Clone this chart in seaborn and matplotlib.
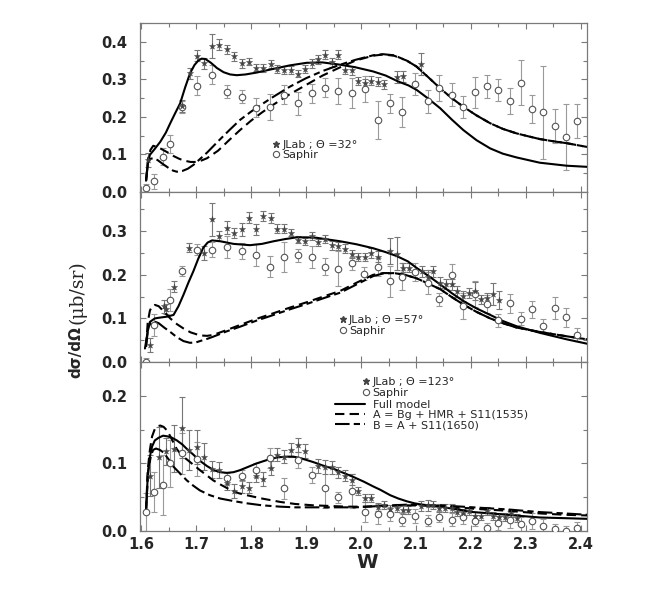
import matplotlib
matplotlib.use("Agg")
import numpy as np
import pandas as pd
import matplotlib.pyplot as plt
from matplotlib.lines import Line2D
from matplotlib.ticker import MultipleLocator, FormatStrFormatter
import seaborn as sns

sns.set_style("ticks")
plt.rcParams['font.family'] = ['DejaVu Sans']

# ── theta = 32 deg ─────────────────────────────────────────
W_j32 = [1.613, 1.674, 1.689, 1.701, 1.715, 1.729, 1.742, 1.756, 1.769, 1.783, 1.796, 1.809,
         1.822, 1.836, 1.848, 1.860, 1.872, 1.886, 1.898, 1.910, 1.921, 1.935, 1.947, 1.958,
         1.971, 1.983, 1.995, 2.007, 2.019, 2.030, 2.042, 2.065, 2.076, 2.109]
y_j32 = [0.085, 0.229, 0.316, 0.363, 0.343, 0.389, 0.392, 0.380, 0.361, 0.343, 0.347, 0.331,
         0.330, 0.341, 0.327, 0.325, 0.325, 0.315, 0.327, 0.343, 0.353, 0.366, 0.346, 0.366,
         0.325, 0.324, 0.296, 0.290, 0.296, 0.294, 0.287, 0.306, 0.308, 0.341]
e_j32 = [0.018, 0.015, 0.015, 0.015, 0.015, 0.031, 0.015, 0.012, 0.012, 0.012, 0.010, 0.010,
         0.010, 0.010, 0.010, 0.010, 0.010, 0.010, 0.010, 0.012, 0.012, 0.012, 0.012, 0.012,
         0.012, 0.012, 0.010, 0.012, 0.012, 0.012, 0.012, 0.015, 0.015, 0.030]

W_s32 = [1.609, 1.624, 1.639, 1.653, 1.674, 1.701, 1.729, 1.756, 1.783, 1.809, 1.835, 1.860,
         1.886, 1.910, 1.935, 1.959, 1.983, 2.007, 2.030, 2.053, 2.075, 2.098, 2.121, 2.142,
         2.165, 2.186, 2.207, 2.229, 2.250, 2.271, 2.291, 2.311, 2.331, 2.353, 2.372, 2.392]
y_s32 = [0.010, 0.029, 0.094, 0.128, 0.226, 0.283, 0.312, 0.267, 0.254, 0.225, 0.226, 0.259,
         0.236, 0.263, 0.278, 0.269, 0.263, 0.274, 0.192, 0.236, 0.212, 0.288, 0.241, 0.276,
         0.259, 0.226, 0.265, 0.281, 0.272, 0.243, 0.291, 0.221, 0.212, 0.176, 0.146, 0.190]
e_s32 = [0.010, 0.020, 0.022, 0.025, 0.015, 0.025, 0.025, 0.018, 0.018, 0.025, 0.035, 0.025,
         0.030, 0.025, 0.025, 0.035, 0.040, 0.035, 0.050, 0.025, 0.040, 0.030, 0.030, 0.035,
         0.030, 0.030, 0.040, 0.030, 0.030, 0.035, 0.060, 0.038, 0.124, 0.045, 0.088, 0.045]

Wf32 = [1.609, 1.612, 1.616, 1.625, 1.635, 1.645, 1.653, 1.662, 1.671, 1.680, 1.689, 1.697,
        1.704, 1.710, 1.717, 1.727, 1.738, 1.750, 1.762, 1.774, 1.790, 1.810, 1.841, 1.870,
        1.901, 1.930, 1.962, 1.990, 2.022, 2.045, 2.068, 2.086, 2.101, 2.122, 2.144, 2.165,
        2.186, 2.210, 2.235, 2.258, 2.283, 2.325, 2.374, 2.411]
full32 = [0.030, 0.075, 0.099, 0.115, 0.134, 0.158, 0.183, 0.210, 0.236, 0.278, 0.316, 0.338,
          0.350, 0.355, 0.354, 0.344, 0.330, 0.319, 0.313, 0.311, 0.313, 0.318, 0.328, 0.337,
          0.344, 0.345, 0.339, 0.332, 0.321, 0.310, 0.294, 0.284, 0.272, 0.249, 0.223, 0.193,
          0.165, 0.138, 0.116, 0.102, 0.092, 0.078, 0.070, 0.067]

Wa32 = [1.609, 1.613, 1.617, 1.622, 1.630, 1.640, 1.650, 1.660, 1.670, 1.680, 1.690, 1.700,
        1.710, 1.720, 1.740, 1.760, 1.780, 1.800, 1.820, 1.840, 1.870, 1.900, 1.930, 1.962,
        1.990, 2.022, 2.040, 2.060, 2.083, 2.101, 2.122, 2.144, 2.165, 2.186, 2.210, 2.235,
        2.258, 2.283, 2.305, 2.325, 2.350, 2.374, 2.411]
a32 = [0.030, 0.090, 0.112, 0.123, 0.120, 0.112, 0.104, 0.095, 0.088, 0.083, 0.080, 0.080,
       0.084, 0.090, 0.110, 0.138, 0.165, 0.190, 0.212, 0.232, 0.260, 0.285, 0.310, 0.332,
       0.350, 0.363, 0.366, 0.363, 0.350, 0.334, 0.306, 0.276, 0.250, 0.227, 0.204, 0.183,
       0.168, 0.156, 0.148, 0.141, 0.135, 0.130, 0.120]

Wb32 = [1.609, 1.612, 1.616, 1.622, 1.630, 1.640, 1.650, 1.658, 1.665, 1.675, 1.685, 1.695,
        1.705, 1.720, 1.740, 1.760, 1.780, 1.800, 1.820, 1.840, 1.870, 1.900, 1.930, 1.960,
        1.990, 2.022, 2.040, 2.060, 2.083, 2.101, 2.122, 2.144, 2.165, 2.186, 2.210, 2.235,
        2.258, 2.283, 2.305, 2.325, 2.350, 2.374, 2.411]
b32 = [0.030, 0.070, 0.088, 0.090, 0.085, 0.074, 0.064, 0.057, 0.054, 0.056, 0.062, 0.072,
       0.085, 0.105, 0.135, 0.164, 0.192, 0.214, 0.234, 0.253, 0.280, 0.303, 0.322, 0.338,
       0.352, 0.364, 0.367, 0.364, 0.350, 0.334, 0.306, 0.276, 0.250, 0.227, 0.204, 0.183,
       0.168, 0.156, 0.148, 0.141, 0.135, 0.130, 0.120]

# ── theta = 57 deg ─────────────────────────────────────────
W_j57 = [1.616, 1.641, 1.645, 1.660, 1.688, 1.715, 1.729, 1.742, 1.756, 1.769, 1.783, 1.796,
         1.809, 1.822, 1.836, 1.848, 1.860, 1.872, 1.886, 1.898, 1.910, 1.922, 1.935, 1.947,
         1.959, 1.971, 1.983, 1.995, 2.007, 2.019, 2.030, 2.053, 2.065, 2.077, 2.088, 2.110,
         2.121, 2.131, 2.143, 2.155, 2.165, 2.175, 2.186, 2.197, 2.207, 2.218, 2.229, 2.240, 2.251]
y_j57 = [0.039, 0.128, 0.121, 0.173, 0.262, 0.250, 0.327, 0.289, 0.308, 0.296, 0.304, 0.331,
         0.304, 0.335, 0.330, 0.306, 0.306, 0.296, 0.281, 0.277, 0.289, 0.275, 0.282, 0.268,
         0.266, 0.260, 0.248, 0.241, 0.241, 0.250, 0.242, 0.254, 0.248, 0.216, 0.216, 0.208,
         0.195, 0.208, 0.182, 0.179, 0.178, 0.162, 0.152, 0.158, 0.163, 0.144, 0.146, 0.156, 0.142]
e_j57 = [0.015, 0.015, 0.012, 0.012, 0.010, 0.015, 0.037, 0.012, 0.015, 0.012, 0.015, 0.012,
         0.012, 0.012, 0.012, 0.010, 0.010, 0.008, 0.008, 0.008, 0.010, 0.008, 0.010, 0.010,
         0.010, 0.010, 0.010, 0.010, 0.010, 0.012, 0.012, 0.030, 0.038, 0.010, 0.010, 0.012,
         0.015, 0.012, 0.012, 0.012, 0.012, 0.012, 0.012, 0.012, 0.020, 0.010, 0.012, 0.025, 0.020]

W_s57 = [1.609, 1.624, 1.653, 1.674, 1.701, 1.729, 1.756, 1.783, 1.809, 1.835, 1.860, 1.886,
         1.910, 1.935, 1.959, 1.983, 2.006, 2.030, 2.053, 2.075, 2.098, 2.121, 2.142, 2.165,
         2.186, 2.207, 2.229, 2.250, 2.271, 2.291, 2.311, 2.331, 2.353, 2.372, 2.392]
y_s57 = [0.000, 0.085, 0.142, 0.209, 0.258, 0.258, 0.264, 0.255, 0.246, 0.219, 0.241, 0.245,
         0.241, 0.219, 0.214, 0.227, 0.202, 0.218, 0.185, 0.196, 0.206, 0.181, 0.144, 0.199,
         0.129, 0.156, 0.133, 0.096, 0.135, 0.099, 0.121, 0.083, 0.123, 0.103, 0.063]
e_s57 = [0.010, 0.025, 0.025, 0.012, 0.012, 0.018, 0.025, 0.018, 0.025, 0.025, 0.035, 0.015,
         0.025, 0.020, 0.040, 0.015, 0.015, 0.020, 0.035, 0.030, 0.020, 0.025, 0.015, 0.025,
         0.030, 0.030, 0.020, 0.015, 0.022, 0.015, 0.020, 0.015, 0.025, 0.022, 0.015]

Wf57 = [1.607, 1.612, 1.616, 1.625, 1.635, 1.647, 1.659, 1.668, 1.677, 1.686, 1.695, 1.704,
        1.713, 1.721, 1.729, 1.744, 1.768, 1.798, 1.820, 1.841, 1.862, 1.883, 1.901, 1.919,
        1.940, 1.962, 1.992, 2.022, 2.045, 2.065, 2.085, 2.101, 2.122, 2.144, 2.165, 2.186,
        2.210, 2.235, 2.258, 2.283, 2.325, 2.374, 2.411]
full57 = [0.031, 0.070, 0.092, 0.100, 0.102, 0.104, 0.108, 0.128, 0.154, 0.182, 0.208, 0.237,
          0.262, 0.274, 0.279, 0.277, 0.271, 0.268, 0.271, 0.277, 0.282, 0.286, 0.286, 0.285,
          0.281, 0.277, 0.270, 0.261, 0.252, 0.243, 0.231, 0.216, 0.198, 0.178, 0.158, 0.140,
          0.123, 0.108, 0.094, 0.082, 0.067, 0.052, 0.042]

Wa57 = [1.609, 1.612, 1.616, 1.620, 1.625, 1.632, 1.642, 1.653, 1.665, 1.677, 1.690, 1.707,
        1.720, 1.731, 1.755, 1.780, 1.810, 1.841, 1.871, 1.901, 1.931, 1.962, 1.992, 2.022,
        2.040, 2.060, 2.080, 2.101, 2.122, 2.144, 2.165, 2.186, 2.210, 2.235, 2.258, 2.283,
        2.325, 2.374, 2.411]
a57 = [0.035, 0.090, 0.118, 0.128, 0.131, 0.128, 0.115, 0.100, 0.087, 0.077, 0.068, 0.061,
       0.060, 0.062, 0.073, 0.085, 0.099, 0.112, 0.125, 0.137, 0.150, 0.163, 0.182, 0.200,
       0.204, 0.204, 0.200, 0.192, 0.180, 0.167, 0.149, 0.132, 0.115, 0.100, 0.089, 0.079,
       0.069, 0.059, 0.052]

Wb57 = [1.609, 1.613, 1.619, 1.626, 1.632, 1.642, 1.653, 1.665, 1.677, 1.689, 1.700, 1.707,
        1.720, 1.731, 1.755, 1.780, 1.810, 1.841, 1.871, 1.901, 1.931, 1.962, 1.992, 2.022,
        2.040, 2.060, 2.080, 2.101, 2.122, 2.144, 2.165, 2.186, 2.210, 2.235, 2.258, 2.283,
        2.325, 2.374, 2.411]
b57 = [0.035, 0.080, 0.092, 0.092, 0.089, 0.079, 0.069, 0.057, 0.048, 0.044, 0.045, 0.048,
       0.053, 0.058, 0.070, 0.081, 0.095, 0.108, 0.121, 0.133, 0.146, 0.159, 0.178, 0.197,
       0.203, 0.204, 0.200, 0.192, 0.180, 0.167, 0.149, 0.132, 0.115, 0.100, 0.089, 0.079,
       0.069, 0.059, 0.052]

# ── theta = 123 deg ────────────────────────────────────────
W_j123 = [1.616, 1.632, 1.645, 1.659, 1.674, 1.688, 1.701, 1.715, 1.729, 1.742, 1.756, 1.769,
          1.783, 1.796, 1.809, 1.822, 1.836, 1.848, 1.860, 1.872, 1.886, 1.898, 1.922, 1.935,
          1.947, 1.959, 1.971, 1.983, 1.995, 2.007, 2.019, 2.030, 2.042, 2.053, 2.065, 2.076,
          2.086, 2.109, 2.121, 2.131, 2.142, 2.153, 2.165, 2.175, 2.186, 2.197, 2.207, 2.218,
          2.229, 2.240, 2.251, 2.262, 2.272, 2.283]
y_j123 = [0.082, 0.109, 0.118, 0.122, 0.153, 0.120, 0.124, 0.110, 0.091, 0.090, 0.071, 0.059,
          0.066, 0.064, 0.082, 0.077, 0.093, 0.113, 0.110, 0.120, 0.127, 0.118, 0.096, 0.095,
          0.094, 0.087, 0.082, 0.076, 0.059, 0.049, 0.049, 0.036, 0.039, 0.033, 0.034, 0.031,
          0.031, 0.037, 0.038, 0.038, 0.034, 0.034, 0.034, 0.028, 0.027, 0.030, 0.022, 0.022,
          0.030, 0.022, 0.021, 0.021, 0.026, 0.019]
e_j123 = [0.030, 0.045, 0.020, 0.035, 0.045, 0.030, 0.025, 0.020, 0.012, 0.012, 0.010, 0.010,
          0.010, 0.008, 0.010, 0.010, 0.010, 0.010, 0.010, 0.010, 0.010, 0.010, 0.010, 0.010,
          0.010, 0.008, 0.008, 0.008, 0.006, 0.006, 0.006, 0.006, 0.006, 0.006, 0.006, 0.006,
          0.006, 0.008, 0.008, 0.006, 0.006, 0.006, 0.006, 0.006, 0.006, 0.006, 0.006, 0.006,
          0.006, 0.006, 0.006, 0.006, 0.006, 0.006]

W_s123 = [1.609, 1.624, 1.639, 1.653, 1.674, 1.701, 1.756, 1.783, 1.809, 1.835, 1.860, 1.886,
          1.910, 1.935, 1.959, 1.983, 2.007, 2.030, 2.053, 2.075, 2.098, 2.121, 2.142, 2.165,
          2.186, 2.207, 2.229, 2.250, 2.271, 2.291, 2.311, 2.331, 2.353, 2.372, 2.392]
y_s123 = [0.028, 0.058, 0.068, 0.100, 0.115, 0.107, 0.078, 0.082, 0.090, 0.108, 0.063, 0.105,
          0.083, 0.064, 0.050, 0.059, 0.028, 0.025, 0.025, 0.017, 0.022, 0.015, 0.021, 0.017,
          0.020, 0.015, 0.004, 0.012, 0.017, 0.010, 0.015, 0.008, 0.003, 0.000, 0.004]
e_s123 = [0.028, 0.030, 0.045, 0.035, 0.030, 0.025, 0.008, 0.008, 0.010, 0.015, 0.015, 0.012,
          0.012, 0.030, 0.008, 0.025, 0.015, 0.015, 0.010, 0.010, 0.010, 0.008, 0.008, 0.010,
          0.010, 0.008, 0.008, 0.010, 0.012, 0.010, 0.012, 0.010, 0.008, 0.008, 0.010]

Wf123 = [1.609, 1.612, 1.616, 1.620, 1.625, 1.632, 1.640, 1.648, 1.656, 1.665, 1.675, 1.685,
         1.695, 1.705, 1.720, 1.732, 1.744, 1.756, 1.768, 1.780, 1.792, 1.810, 1.829, 1.848,
         1.865, 1.877, 1.889, 1.901, 1.913, 1.930, 1.950, 1.968, 1.986, 2.005, 2.022, 2.035,
         2.053, 2.068, 2.083, 2.097, 2.111, 2.144, 2.174, 2.204, 2.235, 2.265, 2.295, 2.325,
         2.370, 2.411]
full123 = [0.030, 0.080, 0.110, 0.125, 0.134, 0.138, 0.141, 0.140, 0.138, 0.134, 0.128, 0.120,
           0.113, 0.105, 0.096, 0.090, 0.087, 0.086, 0.087, 0.090, 0.094, 0.100, 0.105, 0.109,
           0.110, 0.110, 0.108, 0.105, 0.102, 0.097, 0.092, 0.086, 0.080, 0.073, 0.066, 0.061,
           0.053, 0.048, 0.044, 0.041, 0.039, 0.036, 0.032, 0.028, 0.026, 0.024, 0.022, 0.020,
           0.019, 0.018]

Wa123 = [1.609, 1.612, 1.616, 1.620, 1.625, 1.630, 1.635, 1.641, 1.648, 1.655, 1.665, 1.675,
         1.683, 1.695, 1.707, 1.720, 1.731, 1.746, 1.762, 1.777, 1.792, 1.820, 1.853, 1.880,
         1.913, 1.944, 1.974, 2.005, 2.035, 2.083, 2.144, 2.204, 2.265, 2.325, 2.370, 2.411]
a123 = [0.030, 0.090, 0.120, 0.140, 0.151, 0.155, 0.156, 0.154, 0.148, 0.137, 0.121, 0.111,
        0.106, 0.098, 0.090, 0.082, 0.075, 0.068, 0.061, 0.056, 0.053, 0.048, 0.043, 0.040,
        0.038, 0.037, 0.036, 0.036, 0.037, 0.038, 0.037, 0.033, 0.030, 0.026, 0.024, 0.023]

Wb123 = [1.609, 1.613, 1.618, 1.622, 1.627, 1.634, 1.641, 1.650, 1.659, 1.671, 1.683, 1.695,
         1.707, 1.725, 1.744, 1.770, 1.792, 1.820, 1.853, 1.880, 1.913, 1.950, 1.990, 2.035,
         2.083, 2.144, 2.204, 2.265, 2.325, 2.370, 2.411]
b123 = [0.030, 0.090, 0.112, 0.120, 0.122, 0.120, 0.116, 0.106, 0.095, 0.085, 0.075, 0.067,
        0.060, 0.053, 0.048, 0.044, 0.041, 0.038, 0.036, 0.035, 0.035, 0.035, 0.035, 0.037,
        0.039, 0.038, 0.035, 0.032, 0.028, 0.026, 0.024]

ANGLES = ["32", "57", "123"]
YMAX   = [0.45, 0.39, 0.25]
YTOP   = [0.4, 0.3, 0.2]

DASH_A = (0, (4.5, 2.5))
DASH_B = (0, (7, 2, 3, 2))
FRAME  = "#7a7a7a"

# ── figure ─────────────────────────────────────────────────
fig = plt.figure(figsize=(6.51, 5.99), dpi=100)
L, R = 140 / 651, 587 / 651
def panel_rect(top_px, bot_px):
    return [L, 1 - bot_px / 599, R - L, (bot_px - top_px) / 599]

axes = [fig.add_axes(panel_rect(23, 192)),
        fig.add_axes(panel_rect(192, 362)),
        fig.add_axes(panel_rect(362, 531))]

panels = [
    (W_j32, y_j32, e_j32, W_s32, y_s32, e_s32, Wf32, full32, Wa32, a32, Wb32, b32),
    (W_j57, y_j57, e_j57, W_s57, y_s57, e_s57, Wf57, full57, Wa57, a57, Wb57, b57),
    (W_j123, y_j123, e_j123, W_s123, y_s123, e_s123, Wf123, full123, Wa123, a123, Wb123, b123),
]

for i, (ax, p) in enumerate(zip(axes, panels)):
    Wj, yj, ej, Ws, ys, es, Wf, yf, Wa, ya, Wb, yb = p
    jlab = pd.DataFrame({"W": Wj, "y": yj})
    saph = pd.DataFrame({"W": Ws, "y": ys})

    ax.errorbar(Ws, ys, yerr=es, fmt="none", ecolor="#9a9a9a", elinewidth=0.8,
                capsize=2.3, capthick=0.8, zorder=2)
    ax.errorbar(Wj, yj, yerr=ej, fmt="none", ecolor="#777777", elinewidth=0.8,
                capsize=2.3, capthick=0.8, zorder=2)

    sns.lineplot(x=Wf, y=yf, ax=ax, color="black", lw=1.5, estimator=None, sort=False, zorder=4)
    sns.lineplot(x=Wa, y=ya, ax=ax, color="black", lw=1.5, estimator=None, sort=False,
                 linestyle=DASH_A, zorder=4)
    sns.lineplot(x=Wb, y=yb, ax=ax, color="black", lw=1.5, estimator=None, sort=False,
                 linestyle=DASH_B, zorder=4)

    sns.scatterplot(data=saph, x="W", y="y", ax=ax, marker="o", s=22, facecolor="white",
                    edgecolor="#555555", linewidth=0.8, zorder=5)
    sns.scatterplot(data=jlab, x="W", y="y", ax=ax, marker="*", s=22, color="#444444",
                    edgecolor="#444444", linewidth=0.3, zorder=5)

    ax.set_xlim(1.598, 2.411)
    ax.set_ylim(0, YMAX[i])
    ax.set_xlabel("")
    ax.set_ylabel("")
    ax.xaxis.set_major_locator(MultipleLocator(0.1))
    ax.xaxis.set_minor_locator(MultipleLocator(0.05))
    ax.set_yticks(np.arange(0, YTOP[i] + 0.01, 0.1))
    ax.yaxis.set_minor_locator(MultipleLocator(0.05))
    ax.yaxis.set_major_formatter(FormatStrFormatter("%.1f"))
    ax.xaxis.set_major_formatter(FormatStrFormatter("%.1f"))
    ax.tick_params(which="both", direction="in", top=True, right=True, color=FRAME, width=0.8)
    ax.tick_params(which="major", length=4)
    ax.tick_params(which="minor", length=3)
    ax.tick_params(axis="y", labelsize=10.5, pad=9)
    ax.tick_params(axis="x", labelsize=10.5, pad=4)
    for lab in ax.get_yticklabels() + ax.get_xticklabels():
        lab.set_fontweight("bold")
    if i < 2:
        ax.tick_params(axis="x", labelbottom=False)
    for sp in ax.spines.values():
        sp.set_color(FRAME)
        sp.set_linewidth(0.9)

# ── legends ────────────────────────────────────────────────
h_jlab = Line2D([], [], ls="none", marker="*", ms=5, color="#444444")
h_saph = Line2D([], [], ls="none", marker="o", ms=4.5, mfc="white", mec="#555555", mew=0.8)

leg_pos = [(0.297, 0.31), (0.446, 0.275), (0.499, 0.91)]
for i, ax in enumerate(axes):
    leg = ax.legend([h_jlab, h_saph], [f"JLab ; Θ ={ANGLES[i]}°", "Saphir"],
                    loc="upper left", bbox_to_anchor=leg_pos[i], frameon=False,
                    fontsize=8, handlelength=0.6, handletextpad=0.25, borderpad=0,
                    borderaxespad=0, labelspacing=0.05)
    if i == 2:
        ax.add_artist(leg)

h_full = Line2D([], [], color="black", lw=1.5)
h_a = Line2D([], [], color="black", lw=1.5, linestyle=DASH_A)
h_b = Line2D([], [], color="black", lw=1.5, linestyle=DASH_B)
axes[2].legend([h_full, h_a, h_b],
               ["Full model", "A = Bg + HMR + S11(1535)", "B = A + S11(1650)"],
               loc="upper left", bbox_to_anchor=(0.436, 0.775), frameon=False,
               fontsize=8, handlelength=2.7, handletextpad=0.7, borderpad=0,
               borderaxespad=0, labelspacing=0.0)

# ── axis titles ────────────────────────────────────────────
fig.text(367 / 651, 1 - 568 / 599, "W", ha="center", va="baseline",
         fontsize=14, fontweight="bold")
fig.text(76 / 651, 1 - 378 / 599, "dσ/dΩ", rotation=90, ha="center", va="bottom",
         fontsize=11, fontweight="bold")
fig.text(77 / 651, 1 - 324 / 599, "(μb/sr)", rotation=90, ha="center", va="bottom",
         fontsize=13.5, family=["DejaVu Serif"])

fig.savefig("out.png", dpi=100)
